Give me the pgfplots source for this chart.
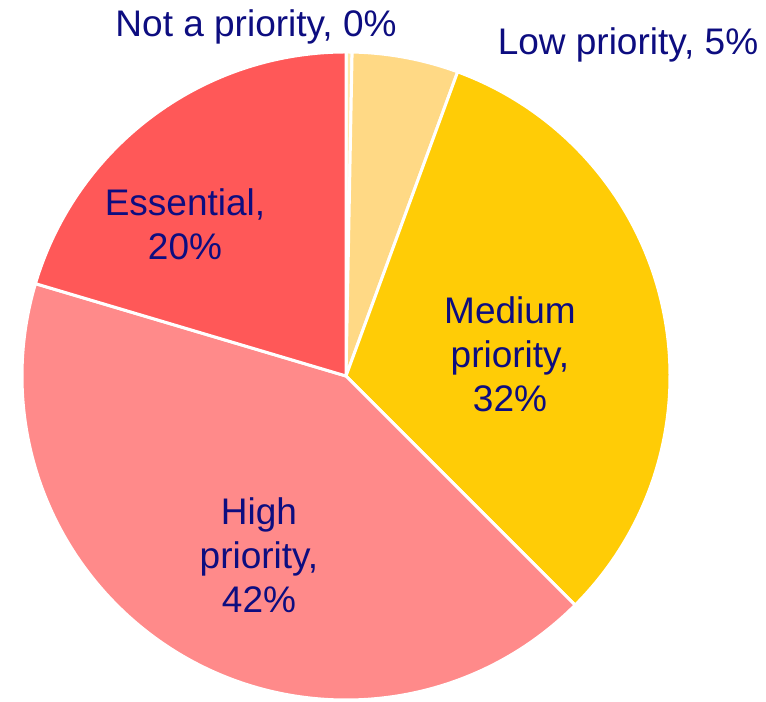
\documentclass[border=0pt]{standalone}
\usepackage{pgfplots}
\usepackage{pgfplotstable}
\usepackage{fontspec}
\setmainfont{Liberation Sans}
\pgfplotsset{compat=1.18}

\definecolor{notprio}{HTML}{FFE9A8}
\definecolor{lowprio}{HTML}{FFD985}
\definecolor{medprio}{HTML}{FFCC06}
\definecolor{highprio}{HTML}{FF8A8A}
\definecolor{essential}{HTML}{FF5858}
\definecolor{labelblue}{HTML}{0D0D80}

\tikzset{
  lbl/.style={text=labelblue, align=center, inner sep=0pt,
    font=\fontsize{18.5bp}{22bp}\selectfont},
  slice/.style={draw=white, line width=1.5bp, line join=round},
}

% shares in percent, clockwise from 12 o'clock
\pgfplotstableread{
label       value
NotPriority 0.3
Low         5.3
Medium      31.9
High        42.1
Essential   20.4
}\piedata

\begin{document}
\begin{tikzpicture}
  % cumulative angles from the table
  \pgfplotstablegetelem{0}{value}\of\piedata \pgfmathsetmacro\vA{\pgfplotsretval}
  \pgfplotstablegetelem{1}{value}\of\piedata \pgfmathsetmacro\vB{\pgfplotsretval}
  \pgfplotstablegetelem{2}{value}\of\piedata \pgfmathsetmacro\vC{\pgfplotsretval}
  \pgfplotstablegetelem{3}{value}\of\piedata \pgfmathsetmacro\vD{\pgfplotsretval}
  \pgfplotstablegetelem{4}{value}\of\piedata \pgfmathsetmacro\vE{\pgfplotsretval}
  \pgfmathsetmacro\aA{90}
  \pgfmathsetmacro\aB{\aA-3.6*\vA}
  \pgfmathsetmacro\aC{\aB-3.6*\vB}
  \pgfmathsetmacro\aD{\aC-3.6*\vC}
  \pgfmathsetmacro\aE{\aD-3.6*\vD}
  \pgfmathsetmacro\aF{\aE-3.6*\vE}
  \begin{axis}[
    hide axis,
    x=0.5bp, y=0.5bp,
    xmin=0, xmax=766,
    ymin=0, ymax=702,
    clip=false,
  ]
    \coordinate (bl) at (axis cs:0,0);
    \coordinate (tr) at (axis cs:766,702);
    \fill[notprio, slice] (axis cs:346,326) -- ++(\aA:162bp) arc[start angle=\aA, end angle=\aB, radius=162bp] -- cycle;
    \fill[lowprio, slice] (axis cs:346,326) -- ++(\aB:162bp) arc[start angle=\aB, end angle=\aC, radius=162bp] -- cycle;
    \fill[medprio, slice] (axis cs:346,326) -- ++(\aC:162bp) arc[start angle=\aC, end angle=\aD, radius=162bp] -- cycle;
    \fill[highprio, slice] (axis cs:346,326) -- ++(\aD:162bp) arc[start angle=\aD, end angle=\aE, radius=162bp] -- cycle;
    \fill[essential, slice] (axis cs:346,326) -- ++(\aE:162bp) arc[start angle=\aE, end angle=\aF, radius=162bp] -- cycle;

    \node[lbl, anchor=base] at (axis cs:256,665) {Not a priority, 0\%};
    \node[lbl, anchor=base] at (axis cs:628,647) {Low priority, 5\%};
    \node[lbl] at (axis cs:185,478) {Essential,\\20\%};
    \node[lbl] at (axis cs:510,348) {Medium\\priority,\\32\%};
    \node[lbl] at (axis cs:259,147) {High\\priority,\\42\%};
  \end{axis}
  \pgfresetboundingbox
  \path[use as bounding box] (bl) rectangle (tr);
\end{tikzpicture}
\end{document}
